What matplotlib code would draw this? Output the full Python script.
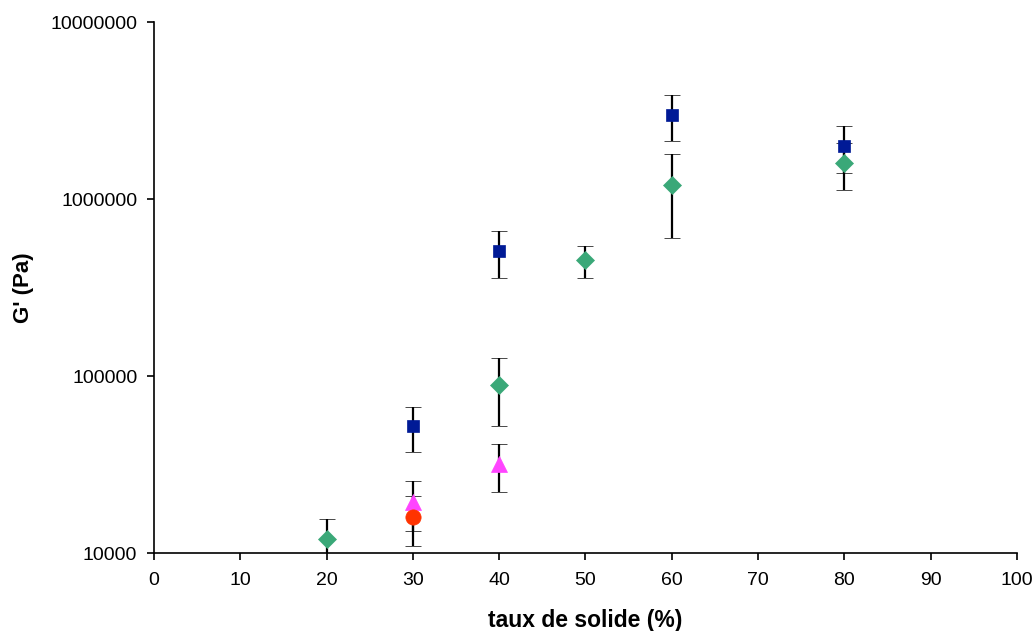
import matplotlib
matplotlib.use("Agg")
import matplotlib.pyplot as plt

plt.rcParams['font.family'] = ['Liberation Sans', 'DejaVu Sans']

# Blue squares
sq_x = [30, 40, 60, 80]
sq_y = [52000, 508000, 3000000, 2000000]
sq_err = [15000, 150000, 880000, 600000]

# Green diamonds
di_x = [20, 40, 50, 60, 80]
di_y = [12000, 89000, 450000, 1200000, 1600000]
di_err = [3600, 37000, 90000, 600000, 480000]

# Pink triangles
tr_x = [30, 40]
tr_y = [19400, 31800]
tr_err = [6000, 9700]

# Red circle
ci_x = [30]
ci_y = [16000]
ci_err = [5000]

xticks = [0, 10, 20, 30, 40, 50, 60, 70, 80, 90, 100]
yticks = [10000, 100000, 1000000, 10000000]
ytick_labels = ['10000', '100000', '1000000', '10000000']

fig = plt.figure(figsize=(10.33, 6.31), dpi=100)
ax = fig.add_axes([0.149, 0.1236, 0.8355, 0.8414])

def eb(x, y, e, fmt, color, ms):
    ax.errorbar(x, y, yerr=e, fmt=fmt, color=color, markersize=ms,
                markeredgecolor=color, markeredgewidth=0.5,
                ecolor='black', elinewidth=1.6, capsize=6, capthick=1.6,
                linestyle='none')

eb(di_x, di_y, di_err, 'D', '#3AA878', 9)
eb(sq_x, sq_y, sq_err, 's', '#001A96', 8.5)
eb(tr_x, tr_y, tr_err, '^', '#FF44FF', 11.5)
eb(ci_x, ci_y, ci_err, 'o', '#FF3300', 11)

ax.set_yscale('log')
ax.set_xlim(0, 100)
ax.set_ylim(10000, 10000000)
ax.set_xticks(xticks)
ax.set_xticklabels([str(t) for t in xticks])
ax.set_yticks(yticks)
ax.set_yticklabels(ytick_labels)
ax.yaxis.set_minor_locator(matplotlib.ticker.NullLocator())

for s in ['top', 'right']:
    ax.spines[s].set_visible(False)
for s in ['left', 'bottom']:
    ax.spines[s].set_linewidth(1.2)
ax.tick_params(axis='both', direction='out', length=5, width=1.2, labelsize=14)
ax.tick_params(axis='x', pad=9)
ax.tick_params(axis='y', pad=7)

ax.set_xlabel('taux de solide (%)', fontsize=16.5, fontweight='bold')
ax.set_ylabel("G' (Pa)", fontsize=16, fontweight='bold')
ax.xaxis.set_label_coords(0.5, -0.105)
ax.yaxis.set_label_coords(-0.139, 0.5)

fig.savefig('out.png', dpi=100)
